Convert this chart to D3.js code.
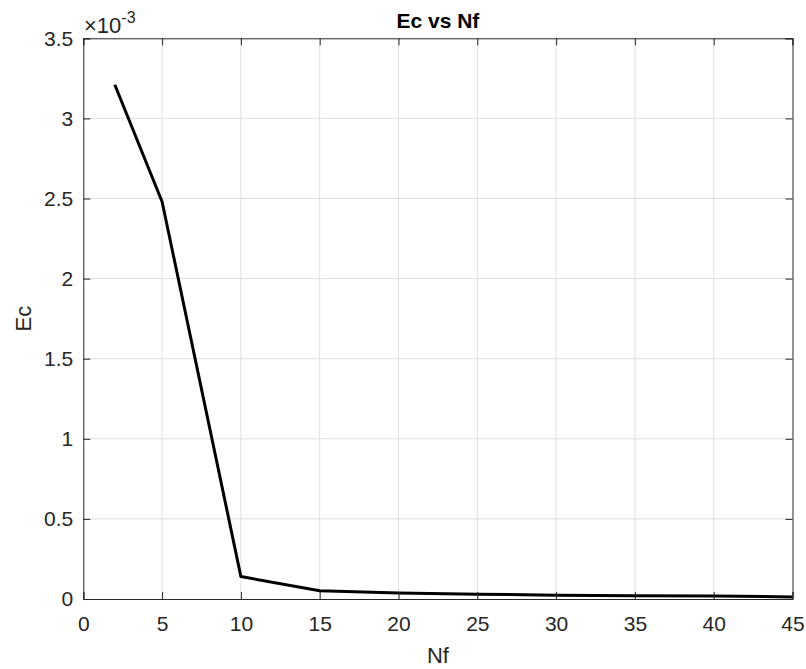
<!DOCTYPE html>
<html><head><meta charset="utf-8">
<script src="https://cdn.jsdelivr.net/npm/d3@7"></script>
<style>body{margin:0;background:#fff}svg{display:block}text{font-family:"Liberation Sans",Arial,sans-serif}</style>
</head><body>
<svg id="c" width="806" height="669"></svg>
<script>
const nf = [2, 5, 10, 15, 20, 25, 30, 35, 40, 45];
const ec = [3.21e-3, 2.48e-3, 0.14e-3, 0.052e-3, 0.037e-3, 0.030e-3, 0.024e-3, 0.021e-3, 0.019e-3, 0.013e-3];
const xTicks = [0,5,10,15,20,25,30,35,40,45];
const yTicks = [0,0.5e-3,1e-3,1.5e-3,2e-3,2.5e-3,3e-3,3.5e-3];

const svg = d3.select("#c");
const L=83.3, R=792.5, T=38.3, B=599;
const x = d3.scaleLinear().domain([0,45]).range([L,R]);
const y = d3.scaleLinear().domain([0,3.5e-3]).range([B,T]);
const axCol="#262626", grid="#dfdfdf";

// grid
svg.append("g").selectAll("line").data(xTicks.slice(1,-1)).join("line")
  .attr("x1",d=>x(d)).attr("x2",d=>x(d)).attr("y1",T).attr("y2",B)
  .attr("stroke",grid).attr("stroke-width",1);
svg.append("g").selectAll("line").data(yTicks.slice(1,-1)).join("line")
  .attr("y1",d=>y(d)).attr("y2",d=>y(d)).attr("x1",L).attr("x2",R)
  .attr("stroke",grid).attr("stroke-width",1);

// line
svg.append("path").datum(nf.map((d,i)=>[d,ec[i]]))
  .attr("d", d3.line().x(d=>x(d[0])).y(d=>y(d[1])))
  .attr("fill","none").attr("stroke","#000").attr("stroke-width",3).attr("stroke-linejoin","round");

// axes
const fmtY = d=>d3.format("~g")(+(d*1e3).toFixed(3));
const xa = svg.append("g").attr("transform",`translate(0,${B})`)
  .call(d3.axisBottom(x).tickValues(xTicks).tickSize(-7).tickPadding(17).tickFormat(d3.format("d")));
const xt = svg.append("g").attr("transform",`translate(0,${T})`)
  .call(d3.axisTop(x).tickValues(xTicks).tickSize(-7).tickFormat(""));
const ya = svg.append("g").attr("transform",`translate(${L},0)`)
  .call(d3.axisLeft(y).tickValues(yTicks).tickSize(-7).tickPadding(10).tickFormat(fmtY));
const yr = svg.append("g").attr("transform",`translate(${R},0)`)
  .call(d3.axisRight(y).tickValues(yTicks).tickSize(-7).tickFormat(""));
[xa,xt,ya,yr].forEach(g=>{
  g.selectAll("path.domain").attr("stroke",axCol).attr("stroke-width",1);
  g.selectAll(".tick line").attr("stroke",axCol);
  g.selectAll("text").attr("fill",axCol).style("font-size","21px").style("font-family","'Liberation Sans',Arial,sans-serif");
});
xa.selectAll("text").attr("dy","0.71em");

// title and labels
svg.append("text").attr("x",(L+R)/2).attr("y",28).attr("text-anchor","middle")
  .style("font-size","21px").style("font-weight","bold").attr("fill","#000").text("Ec vs Nf");
svg.append("text").attr("x",(L+R)/2).attr("y",663).attr("text-anchor","middle")
  .style("font-size","22px").attr("fill",axCol).text("Nf");
svg.append("text").attr("transform",`translate(31,${(T+B)/2}) rotate(-90)`).attr("text-anchor","middle")
  .style("font-size","22px").attr("fill",axCol).text("Ec");
const ex = svg.append("text").attr("x",84).attr("y",33).attr("fill",axCol).style("font-size","22px");
ex.append("tspan").text("×10");
ex.append("tspan").attr("dy",-10).style("font-size","16px").text("-3");
</script>
</body></html>
